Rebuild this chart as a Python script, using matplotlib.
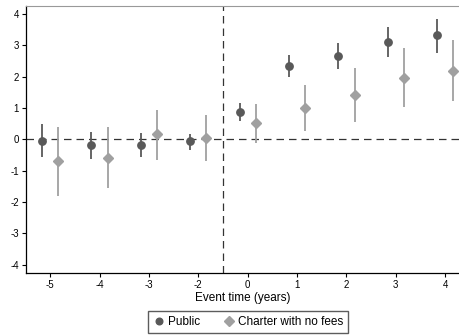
import numpy as np
import matplotlib.pyplot as plt

plt.rcParams['font.family'] = ['Liberation Sans', 'DejaVu Sans']
plt.rcParams['axes.unicode_minus'] = False

# event time categories (no -1, it is the reference year)
event_time = ['-5', '-4', '-3', '-2', '0', '1', '2', '3', '4']

public_est = [-0.05, -0.20, -0.17, -0.06, 0.88, 2.33, 2.65, 3.11, 3.31]
public_lo = [-0.57, -0.64, -0.57, -0.34, 0.59, 1.97, 2.23, 2.63, 2.76]
public_hi = [0.48, 0.22, 0.19, 0.16, 1.17, 2.68, 3.06, 3.59, 3.85]

charter_est = [-0.69, -0.60, 0.15, 0.05, 0.51, 1.01, 1.41, 1.96, 2.18]
charter_lo = [-1.81, -1.57, -0.66, -0.69, -0.11, 0.27, 0.56, 1.02, 1.22]
charter_hi = [0.40, 0.40, 0.93, 0.77, 1.12, 1.73, 2.28, 2.90, 3.16]

pub_col = '#595959'
cha_col = '#a0a0a0'

fig = plt.figure(figsize=(4.6, 3.36), dpi=100)
ax = fig.add_axes([26/460, 1 - 273/336, 434/460, 267/336])

x = np.arange(len(event_time))
off = 0.165

ax.axhline(0, color='#333333', lw=0.9, ls=(0, (6, 4)), zorder=1)
ax.axvline(3.5, color='#333333', lw=0.9, ls=(0, (6, 4)), zorder=1)

ax.vlines(x - off, public_lo, public_hi, color=pub_col, lw=1.3, zorder=2)
ax.vlines(x + off, charter_lo, charter_hi, color=cha_col, lw=1.3, zorder=2)
ax.plot(x - off, public_est, 'o', color=pub_col, ms=5.3, zorder=3, label='Public')
ax.plot(x + off, charter_est, 'D', color=cha_col, ms=5.3, zorder=3, label='Charter with no fees')

ax.set_xlim(-0.49, 8.3)
ax.set_ylim(-4.27, 4.25)
ax.set_xticks(x)
ax.set_xticklabels(event_time)
ax.set_yticks(range(-4, 5))
ax.tick_params(labelsize=7, length=3, width=0.8, pad=2)
ax.set_xlabel('Event time (years)', fontsize=8.5, labelpad=1.5)

ax.spines['right'].set_visible(False)
ax.spines['top'].set_color('#999999')
for s in ['left', 'bottom']:
    ax.spines[s].set_linewidth(0.9)

fig.legend(loc='center', bbox_to_anchor=(248/460, 1 - 322/336), ncol=2,
           fontsize=8.5, frameon=True, fancybox=False, edgecolor='#333333',
           handletextpad=0.3, columnspacing=1.9, borderpad=0.4,
           handlelength=1.0, markerscale=0.9)

fig.savefig('out.png', dpi=100)
